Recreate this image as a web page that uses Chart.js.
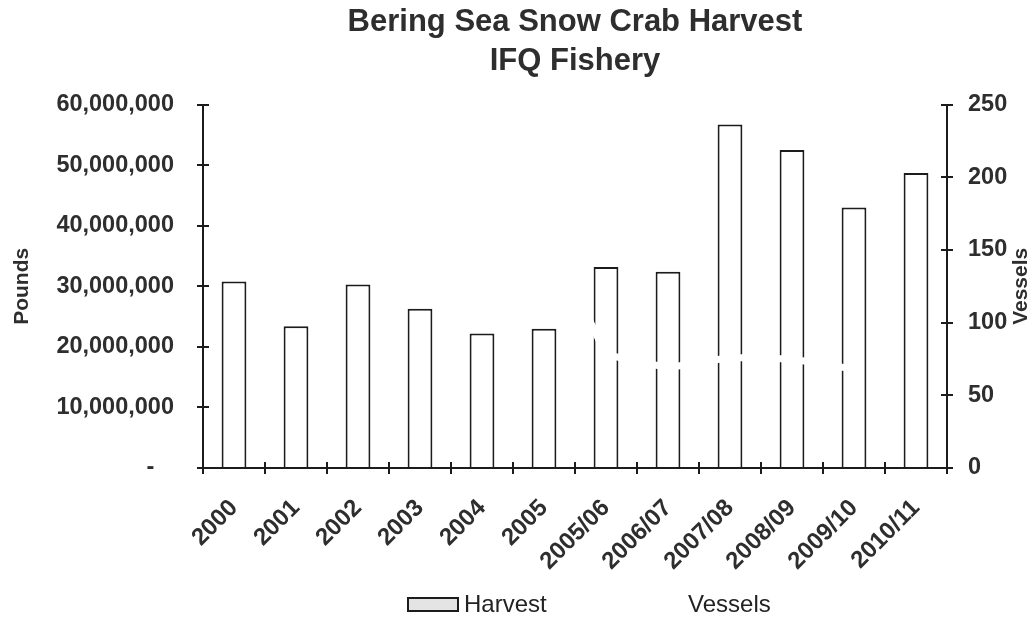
<!DOCTYPE html>
<html>
<head>
<meta charset="utf-8">
<script src="https://cdn.jsdelivr.net/npm/chart.js@4"></script>
<style>
  html, body { margin: 0; padding: 0; background: #fff; }
  #wrap { width: 1034px; height: 622px; }
</style>
</head>
<body>
<div id="wrap"><canvas id="myChart"></canvas></div>
<script>
// DATA
const seasons = ['2000', '2001', '2002', '2003', '2004', '2005', '2005/06', '2006/07', '2007/08', '2008/09', '2009/10', '2010/11']
const harvest = [30800000, 23400000, 30300000, 26300000, 22200000, 23000000, 33200000, 32400000, 56700000, 52500000, 43000000, 48700000]
// vessels line is drawn in white in the original, only seen where it cuts the bars
const vessels = [229, 207, 191, 190, 189, 167, 78, 69, 76, 75, 68, null]
const poundTicks = [0, 10000000, 20000000, 30000000, 40000000, 50000000, 60000000]
const vesselTicks = [0, 50, 100, 150, 200, 250]

const FONT = 'Liberation Sans, Arial, sans-serif'
const axisColor = '#1c1c1c'
const textColor = '#2e2e2e'

// ticks that cross the axes + right axis title reading bottom to top
const crossTicks = {
  id: 'crossTicks',
  afterDraw(chart) {
    const { ctx, chartArea, scales } = chart
    const len = 6
    ctx.save()
    ctx.strokeStyle = axisColor
    ctx.lineWidth = 2
    ctx.beginPath()
    scales.y.ticks.forEach(t => {
      const p = Math.round(scales.y.getPixelForValue(t.value))
      ctx.moveTo(chartArea.left, p)
      ctx.lineTo(chartArea.left + len, p)
    })
    scales.y1.ticks.forEach(t => {
      const p = Math.round(scales.y1.getPixelForValue(t.value))
      ctx.moveTo(chartArea.right, p)
      ctx.lineTo(chartArea.right - len, p)
    })
    for (let i = 0; i <= seasons.length; i++) {
      const p = Math.round(scales.x.getPixelForValue(i - 0.5))
      ctx.moveTo(p, chartArea.bottom)
      ctx.lineTo(p, chartArea.bottom - len)
    }
    ctx.stroke()

    ctx.fillStyle = textColor
    ctx.font = 'bold 21px ' + FONT
    ctx.textAlign = 'center'
    ctx.textBaseline = 'middle'
    ctx.translate(1021, (chartArea.top + chartArea.bottom) / 2)
    ctx.rotate(-Math.PI / 2)
    ctx.fillText('Vessels', 0, 0)
    ctx.restore()
  }
}

// legend row like the excel one: wide bar swatch, wide gap for the white line swatch
const legendRow = {
  id: 'legendRow',
  afterDraw(chart) {
    const { ctx } = chart
    const [bars, line] = chart.data.datasets
    const y = 605
    ctx.save()
    ctx.font = '24px ' + FONT
    ctx.textBaseline = 'middle'
    ctx.fillStyle = '#e4e4e4'
    ctx.fillRect(408, y - 7, 50, 13)
    ctx.strokeStyle = bars.borderColor
    ctx.lineWidth = 2
    ctx.strokeRect(408, y - 7, 50, 13)
    ctx.fillStyle = '#222'
    ctx.fillText(bars.label, 464, y)

    ctx.strokeStyle = line.borderColor
    ctx.lineWidth = line.borderWidth
    ctx.beginPath()
    ctx.moveTo(630, y)
    ctx.lineTo(680, y)
    ctx.stroke()
    ctx.fillStyle = '#222'
    ctx.fillText(line.label, 688, y)
    ctx.restore()
  }
}

const data = {
  labels: seasons,
  datasets: [
    {
      type: 'bar',
      label: 'Harvest',
      data: harvest,
      yAxisID: 'y',
      backgroundColor: '#ffffff',
      borderColor: axisColor,
      borderWidth: 2,
      barPercentage: 0.4,
      categoryPercentage: 1,
      order: 2
    },
    {
      type: 'line',
      label: 'Vessels',
      data: vessels,
      yAxisID: 'y1',
      borderColor: '#ffffff',
      backgroundColor: '#ffffff',
      borderWidth: 7,
      pointRadius: 0,
      tension: 0,
      order: 1
    }
  ]
}

const config = {
  data: data,
  options: {
    responsive: true,
    maintainAspectRatio: false,
    animation: false,
    layout: { padding: 0 },
    plugins: {
      title: {
        display: true,
        fullSize: false,
        text: ['Bering Sea Snow Crab Harvest', 'IFQ Fishery'],
        color: textColor,
        font: { family: FONT, size: 31, weight: 'bold', lineHeight: 1.26 },
        padding: { top: 2.5, bottom: 24 }
      },
      legend: { display: false },
      tooltip: { enabled: false }
    },
    scales: {
      x: {
        afterFit: s => { s.height = 154 },
        border: { display: true, color: axisColor, width: 2 },
        grid: { drawOnChartArea: false, drawTicks: true, tickLength: 6, color: axisColor, lineWidth: 2 },
        ticks: {
          color: textColor,
          font: { family: FONT, size: 24, weight: 'bold' },
          minRotation: 45,
          maxRotation: 45,
          padding: 20,
          autoSkip: false
        }
      },
      y: {
        position: 'left',
        min: 0,
        max: 60000000,
        afterBuildTicks: s => { s.ticks = poundTicks.map(v => ({ value: v })) },
        afterFit: s => { s.width = 203 },
        border: { display: true, color: axisColor, width: 2 },
        grid: { drawOnChartArea: false, drawTicks: true, tickLength: 6, color: axisColor, lineWidth: 2 },
        ticks: {
          color: textColor,
          font: { family: FONT, size: 23.5, weight: 'bold' },
          padding: 23,
          callback: v => (v === 0 ? '-   ' : v.toLocaleString('en-US'))
        },
        title: {
          display: true,
          text: 'Pounds',
          color: textColor,
          font: { family: FONT, size: 21, weight: 'bold' },
          padding: { top: 10, bottom: 0 }
        }
      },
      y1: {
        position: 'right',
        min: 0,
        max: 250,
        afterBuildTicks: s => { s.ticks = vesselTicks.map(v => ({ value: v })) },
        afterFit: s => { s.width = 87 },
        border: { display: true, color: axisColor, width: 2 },
        grid: { drawOnChartArea: false, drawTicks: true, tickLength: 6, color: axisColor, lineWidth: 2 },
        ticks: {
          color: textColor,
          font: { family: FONT, size: 23.5, weight: 'bold' },
          padding: 15
        }
      }
    }
  },
  plugins: [crossTicks, legendRow]
}

const myChart = new Chart(document.getElementById('myChart'), config)
</script>
</body>
</html>
